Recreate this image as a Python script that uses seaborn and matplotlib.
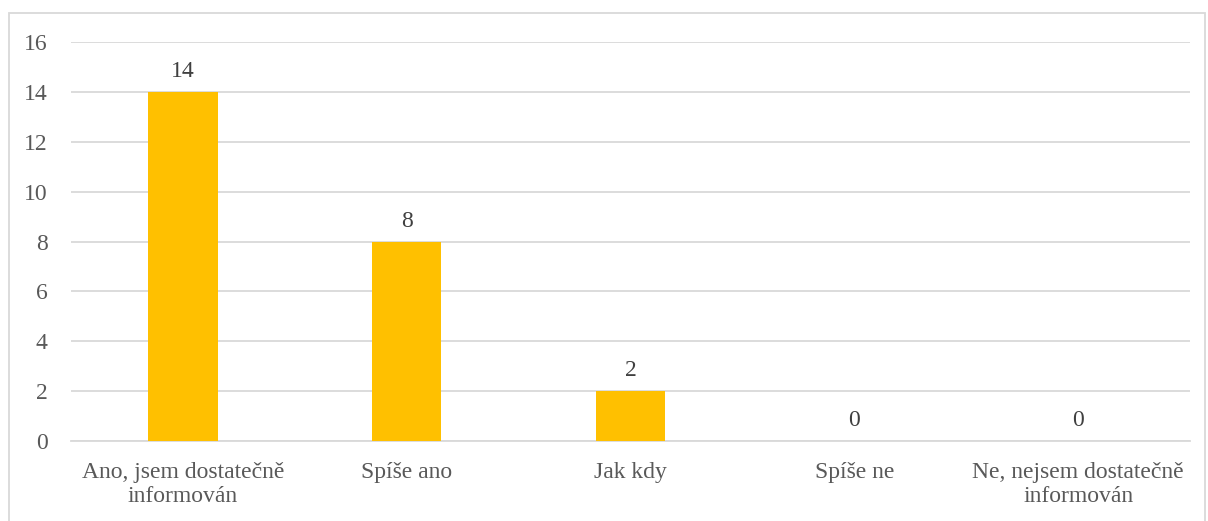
import matplotlib
matplotlib.use("Agg")
import matplotlib.pyplot as plt
import seaborn as sns
import pandas as pd
from matplotlib.patches import Rectangle

categories = ["Ano, jsem dostatečně\ninformován", "Spíše ano", "Jak kdy", "Spíše ne", "Ne, nejsem dostatečně\ninformován"]
values = [14, 8, 2, 0, 0]
yticks = [0, 2, 4, 6, 8, 10, 12, 14, 16]

sns.set_theme(style="white")
plt.rcParams['font.family'] = ['Liberation Serif', 'DejaVu Serif']

df = pd.DataFrame({"cat": categories, "val": values})

fig = plt.figure(figsize=(12.08, 5.21), dpi=100)
ax = fig.add_axes([71/1208, 1-441/521, (1190-71)/1208, (441-42)/521])
sns.barplot(data=df, x="cat", y="val", color="#FFC000", saturation=1, width=0.31, ax=ax,
            zorder=3, linewidth=0, edgecolor="none")

ax.set_ylim(0, 16)
ax.set_yticks(yticks)
ax.set_xlim(-0.5, len(categories)-0.5)
ax.yaxis.grid(True, color="#d9d9d9", linewidth=1.3, zorder=0)
ax.set_axisbelow(True)
for s in ["top", "right", "left"]:
    ax.spines[s].set_visible(False)
ax.spines["bottom"].set_color("#d9d9d9")
ax.spines["bottom"].set_linewidth(1.3)
ax.set_xlabel("")
ax.set_ylabel("")
ax.tick_params(axis="both", length=0, labelsize=17, colors="#595959")
ax.tick_params(axis="y", pad=17)
ax.tick_params(axis="x", pad=15)
for lab in ax.get_xticklabels():
    lab.set_linespacing(1.2)

for c in ax.containers:
    ax.bar_label(c, labels=[str(v) for v in values], padding=7, fontsize=17, color="#404040")

fig.patches.append(Rectangle((9/1208, -0.01), (1205-9)/1208, 1-13/521+0.01, transform=fig.transFigure,
                             fill=False, edgecolor="#d9d9d9", linewidth=1.3))

fig.savefig("out.png", dpi=100, facecolor="white")
